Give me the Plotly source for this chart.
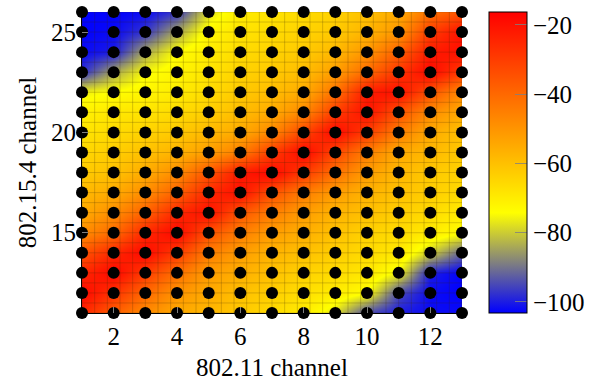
import numpy as np
import plotly.graph_objects as go

# 802.11 channels (x) and 802.15.4 channels (y)
wifi_channels = list(range(1, 14))
zigbee_channels = list(range(11, 27))

# Measured values (rows: 802.15.4 channel 11..26, cols: 802.11 channel 1..13)
row_11 = [-25, -38, -48, -55, -58, -62, -66, -70, -78, -95, -100, -102, -102]
row_12 = [-18, -28, -40, -50, -55, -60, -63, -67, -70, -74, -95, -102, -103]
row_13 = [-25, -18, -30, -42, -52, -56, -60, -64, -66, -69, -76, -100, -103]
row_14 = [-35, -25, -18, -30, -45, -52, -57, -60, -63, -66, -69, -80, -92]
row_15 = [-48, -40, -25, -18, -35, -45, -52, -56, -60, -64, -66, -70, -74]
row_16 = [-55, -48, -38, -25, -20, -36, -45, -52, -57, -60, -63, -66, -70]
row_17 = [-58, -55, -48, -38, -25, -20, -35, -45, -52, -57, -60, -63, -66]
row_18 = [-62, -60, -55, -48, -35, -22, -18, -30, -42, -52, -58, -62, -64]
row_19 = [-65, -63, -60, -57, -52, -45, -30, -18, -32, -45, -55, -58, -62]
row_20 = [-68, -66, -64, -62, -58, -55, -47, -32, -18, -30, -45, -55, -60]
row_21 = [-71, -69, -68, -66, -63, -59, -55, -47, -30, -20, -35, -48, -55]
row_22 = [-76, -74, -72, -70, -66, -62, -59, -55, -42, -22, -20, -35, -48]
row_23 = [-98, -84, -75, -72, -68, -64, -62, -59, -52, -40, -28, -18, -30]
row_24 = [-102, -100, -84, -74, -70, -66, -64, -62, -58, -50, -38, -22, -20]
row_25 = [-103, -102, -97, -84, -72, -68, -66, -64, -62, -57, -50, -30, -20]
row_26 = [-103, -103, -102, -97, -78, -70, -68, -66, -64, -60, -55, -42, -35]

z_rows = [row_11, row_12, row_13, row_14, row_15, row_16, row_17, row_18,
          row_19, row_20, row_21, row_22, row_23, row_24, row_25, row_26]

x_ticks = [2, 4, 6, 8, 10, 12]
y_ticks = [15, 20, 25]
cbar_ticks = [-100, -80, -60, -40, -20]

FONT = "Liberation Serif"
FS = 25

colorscale = [[0.0, "rgb(0,0,255)"], [1 / 3, "rgb(255,255,0)"], [1.0, "rgb(255,0,0)"]]

fig = go.Figure()

fig.add_trace(go.Heatmap(
    x=wifi_channels, y=zigbee_channels, z=z_rows,
    zsmooth="best", colorscale=colorscale, zmin=-103.2, zmax=-16.3,
    colorbar=dict(
        thickness=38, thicknessmode="pixels", len=1.0, lenmode="fraction",
        x=1.0712, xanchor="left", xpad=0, y=0.5, yanchor="middle", ypad=0,
        outlinecolor="black", outlinewidth=1,
        tickvals=cbar_ticks, ticks="inside", ticklen=12, tickcolor="rgba(128,128,128,0.8)",
        tickprefix="\u00a0\u00a0\u00a0",
        tickfont=dict(family=FONT, size=FS, color="black"),
    ),
    hoverinfo="skip",
))

# mesh overlay (31 x 31 grid over the axis range)
gx = np.linspace(wifi_channels[0], wifi_channels[-1], 31)
gy = np.linspace(zigbee_channels[0], zigbee_channels[-1], 31)
lx, ly = [], []
for v in gx:
    lx += [v, v, None]
    ly += [gy[0], gy[-1], None]
for v in gy:
    lx += [gx[0], gx[-1], None]
    ly += [v, v, None]
fig.add_trace(go.Scatter(x=lx, y=ly, mode="lines",
                         line=dict(color="rgba(60,40,0,0.22)", width=1),
                         hoverinfo="skip", showlegend=False))

# measurement points
px = [c for k in zigbee_channels for c in wifi_channels]
py = [k for k in zigbee_channels for c in wifi_channels]
fig.add_trace(go.Scatter(x=px, y=py, mode="markers", cliponaxis=False,
                         marker=dict(color="black", size=12, line=dict(width=0)),
                         hoverinfo="skip", showlegend=False))

fig.update_layout(
    width=602, height=381,
    margin=dict(l=82, r=140, t=12, b=68, autoexpand=False),
    paper_bgcolor="white", plot_bgcolor="white",
    font=dict(family=FONT, size=FS, color="black"),
    showlegend=False,
    xaxis=dict(range=[1, 13], tickvals=x_ticks, ticks="inside", ticklen=6,
               tickcolor="gray", showgrid=False, zeroline=False, ticklabelstandoff=1,
               showline=True, linecolor="black", linewidth=1, layer="above traces",
               automargin=False,
               title=dict(text="802.11 channel", font=dict(family=FONT, size=FS), standoff=10)),
    yaxis=dict(range=[11, 26], tickvals=y_ticks, ticks="inside", ticklen=6,
               tickcolor="gray", showgrid=False, zeroline=False,
               showline=True, linecolor="black", linewidth=1, layer="above traces",
               automargin=False,
               title=dict(text="802.15.4 channel", font=dict(family=FONT, size=FS), standoff=7)),
)

fig.write_html("out.html")
